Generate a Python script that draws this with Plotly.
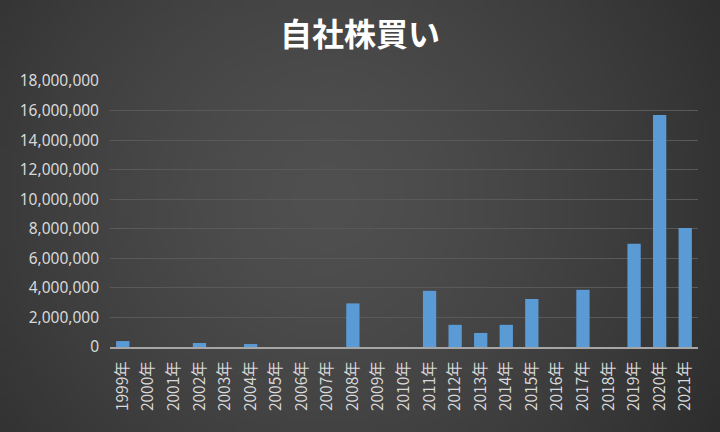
import base64
import struct
import zlib

import plotly.graph_objects as go

# 年度ごとの自社株買い
years = [f'{y}年' for y in range(1999, 2022)]
buyback = [
    400000, 0, 0, 270000, 0, 200000, 0, 0, 0, 2950000,
    0, 0, 3800000, 1500000, 950000, 1500000, 3250000, 0,
    3870000, 0, 6980000, 15700000, 8050000,
]
y_ticks = list(range(0, 18000001, 2000000))
y_labels = [f'{v:,}' for v in y_ticks]


def radial_background(w=144, h=86, inner=80, outer=40):
    '''small grey radial gradient png, stretched behind the chart'''
    rows = b''
    cx, cy = w * 0.45, h * 0.45
    rmax = ((w * 0.6) ** 2 + (h * 0.6) ** 2) ** 0.5
    for j in range(h):
        row = b'\x00'
        for i in range(w):
            d = min(1.0, (((i - cx) ** 2 + (j - cy) ** 2) ** 0.5) / rmax)
            v = int(inner - (inner - outer) * d ** 1.4)
            row += bytes([v, v, v])
        rows += row

    def chunk(tag, data):
        c = struct.pack('>I', len(data)) + tag + data
        return c + struct.pack('>I', zlib.crc32(tag + data) & 0xffffffff)

    png = b'\x89PNG\r\n\x1a\n'
    png += chunk(b'IHDR', struct.pack('>IIBBBBB', w, h, 8, 2, 0, 0, 0))
    png += chunk(b'IDAT', zlib.compress(rows))
    png += chunk(b'IEND', b'')
    return 'data:image/png;base64,' + base64.b64encode(png).decode()


fig = go.Figure(
    go.Bar(
        x=years,
        y=buyback,
        marker=dict(color='#5b9bd5', line=dict(width=0)),
    )
)

fig.update_layout(
    width=720,
    height=432,
    paper_bgcolor='#3d3d3d',
    plot_bgcolor='rgba(0,0,0,0)',
    margin={'l': 110, 'r': 22, 't': 81, 'b': 85},
    bargap=0.48,
    showlegend=False,
    font=dict(family='Noto Sans CJK JP', color='#d9d9d9'),
    title=dict(
        text='<b>自社株買い</b>',
        x=0.5,
        xanchor='center',
        y=0.92,
        yanchor='middle',
        font=dict(size=32, color='#ffffff', family='Noto Sans CJK JP'),
    ),
    images=[dict(
        source=radial_background(),
        xref='paper', yref='paper',
        x=-110 / 588, y=1 + 81 / 266,
        sizex=720 / 588, sizey=432 / 266,
        xanchor='left', yanchor='top',
        sizing='stretch',
        layer='below',
    )],
)

fig.update_yaxes(
    range=[0, 18000000],
    tickvals=y_ticks,
    ticktext=y_labels,
    showgrid=True,
    gridcolor='#595959',
    gridwidth=1,
    zeroline=False,
    ticks='',
    tickfont=dict(size=15.5, family='Noto Sans', color='#d9d9d9'),
    ticklabelstandoff=10,
)
fig.update_xaxes(
    tickangle=-90,
    showline=True,
    linecolor='#a6a6a6',
    linewidth=2,
    ticks='',
    tickfont=dict(size=15.5, family='Noto Sans CJK JP', color='#d9d9d9'),
    ticklabelstandoff=6,
)

fig.write_html(
    'out.html',
    config={'displayModeBar': False},
    post_script="document.body.style.margin='0';",
)
